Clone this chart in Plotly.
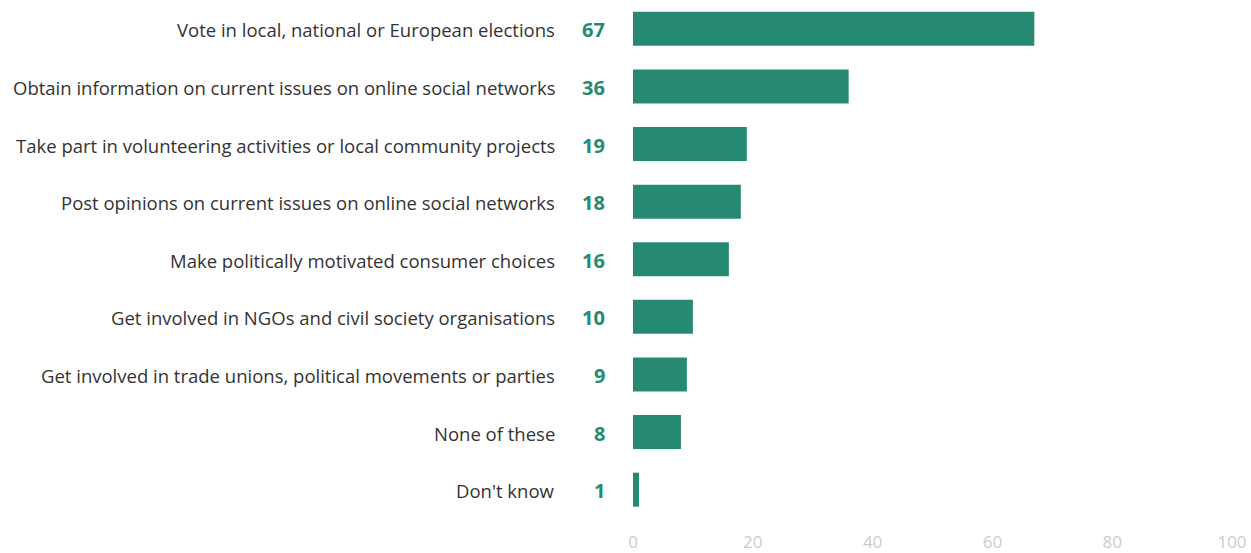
import plotly.graph_objects as go

categories = [
    "Vote in local, national or European elections",
    "Obtain information on current issues on online social networks",
    "Take part in volunteering activities or local community projects",
    "Post opinions on current issues on online social networks",
    "Make politically motivated consumer choices",
    "Get involved in NGOs and civil society organisations",
    "Get involved in trade unions, political movements or parties",
    "None of these",
    "Don't know",
]
values = [67, 36, 19, 18, 16, 10, 9, 8, 1]
x_ticks = [0, 20, 40, 60, 80, 100]

BAR = "#268A72"
FONT = "Open Sans"

fig = go.Figure(
    go.Bar(
        x=values,
        y=categories,
        orientation="h",
        marker=dict(color=BAR, line=dict(width=0)),
        width=0.59,
        hoverinfo="x+y",
    )
)

annotations = []
for cat, v in zip(categories, values):
    annotations.append(dict(
        x=0, y=cat, xref="x", yref="y", text=f"<b>{v}</b>",
        xanchor="right", yanchor="middle", xshift=-26, yshift=-1, showarrow=False,
        font=dict(family=FONT, size=20, color=BAR),
    ))
    annotations.append(dict(
        x=0, y=cat, xref="x", yref="y", text=cat,
        xanchor="right", yanchor="middle", xshift=-76, yshift=-1, showarrow=False,
        font=dict(family=FONT, size=18.5, color="#333333"),
    ))

fig.update_layout(
    width=1251,
    height=553,
    margin=dict(l=633, r=19, t=0, b=23, autoexpand=False),
    paper_bgcolor="white",
    plot_bgcolor="white",
    showlegend=False,
    annotations=annotations,
    xaxis=dict(
        range=[0, 100], tickvals=x_ticks, showgrid=False, zeroline=False,
        showline=False, ticks="", tickfont=dict(family=FONT, size=17, color="#cccccc"),
        fixedrange=True, automargin=False,
    ),
    yaxis=dict(
        categoryorder="array", categoryarray=categories,
        range=[8.70, -0.5], showticklabels=False, showgrid=False,
        zeroline=False, showline=False, ticks="", fixedrange=True, automargin=False,
    ),
)

fig.write_html("out.html")
